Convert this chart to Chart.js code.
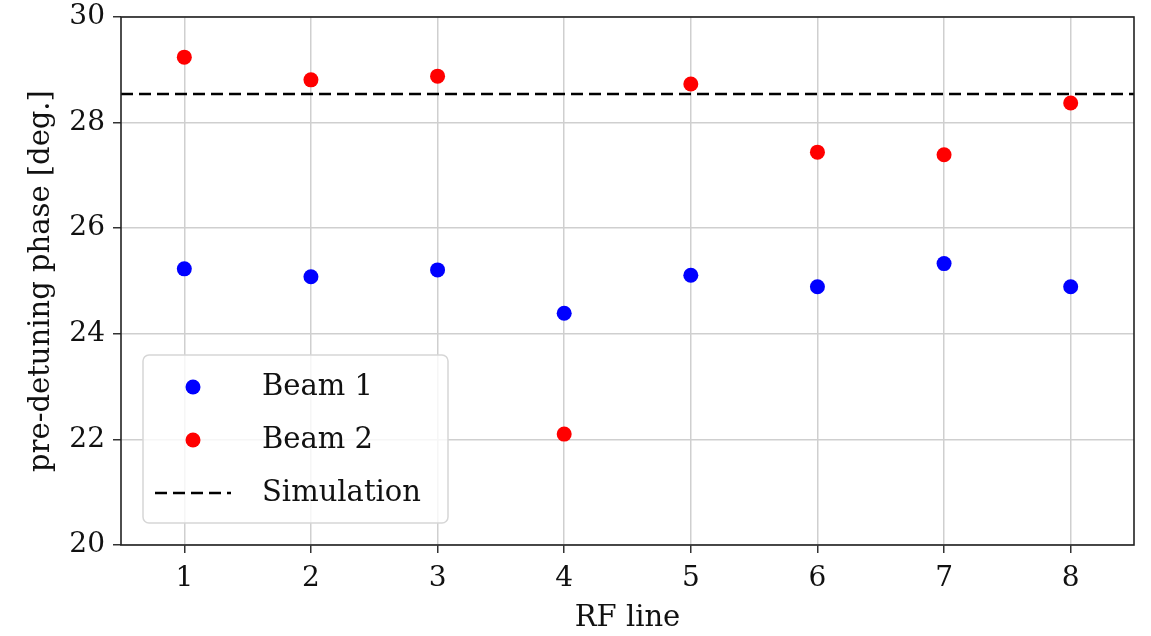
<!DOCTYPE html>
<html>
<head>
<meta charset="utf-8">
<script src="https://cdn.jsdelivr.net/npm/chart.js@4.4.1/dist/chart.umd.min.js"></script>
<style>
	html, body { margin: 0; padding: 0; background: #fff; }
	#wrap { width: 1151px; height: 636px; }
</style>
</head>
<body>
<div id="wrap"><canvas id="chart" width="1151" height="636"></canvas></div>
<script>
// data
const rfLines = [1, 2, 3, 4, 5, 6, 7, 8];
const beam1 = [25.23, 25.08, 25.21, 24.39, 25.11, 24.89, 25.33, 24.89];
const beam2 = [29.24, 28.81, 28.88, 22.10, 28.73, 27.44, 27.39, 28.37];
const simulation = 28.54;
const yTicks = [20, 22, 24, 26, 28, 30];
const xRange = [0.5, 8.5];

const FONT = "'DejaVu Serif', serif";

// frame on all four sides + legend inside the plot
const framePlugin = {
	id: "frame",
	afterDatasetsDraw: function(chart) {
		const ctx = chart.ctx;
		const a = chart.chartArea;
		ctx.save();
		ctx.strokeStyle = "#222";
		ctx.lineWidth = 1.6;
		ctx.strokeRect(a.left, a.top, a.right - a.left, a.bottom - a.top);
		ctx.restore();
	},
	afterDraw: function(chart) {
		const ctx = chart.ctx;
		const a = chart.chartArea;
		const x0 = a.left + 22, y0 = a.top + 338, w = 305, h = 168;
		ctx.save();
		ctx.fillStyle = "rgba(255,255,255,0.8)";
		ctx.strokeStyle = "#d6d6d6";
		ctx.lineWidth = 1.5;
		ctx.beginPath();
		ctx.roundRect(x0, y0, w, h, 6);
		ctx.fill();
		ctx.stroke();

		ctx.font = "29px " + FONT;
		ctx.textBaseline = "middle";
		chart.data.datasets.forEach(function(ds, i) {
			const cy = y0 + 32 + i * 53;
			if (ds.type === "line") {
				ctx.strokeStyle = ds.borderColor;
				ctx.lineWidth = ds.borderWidth;
				ctx.setLineDash(ds.borderDash);
				ctx.beginPath();
				ctx.moveTo(x0 + 12, cy);
				ctx.lineTo(x0 + 88, cy);
				ctx.stroke();
				ctx.setLineDash([]);
			} else {
				ctx.fillStyle = ds.backgroundColor;
				ctx.beginPath();
				ctx.arc(x0 + 50, cy, ds.pointRadius, 0, Math.PI * 2);
				ctx.fill();
			}
			ctx.fillStyle = "#111";
			ctx.fillText(ds.label, x0 + 119, cy);
		});
		ctx.restore();
	}
};

new Chart(document.getElementById("chart"), {
	type: "scatter",
	data: {
		datasets: [
			{
				label: "Beam 1",
				data: rfLines.map((x, i) => ({ x: x, y: beam1[i] })),
				backgroundColor: "#0000ff",
				pointRadius: 7.5,
				pointBorderWidth: 0,
				order: 1
			},
			{
				label: "Beam 2",
				data: rfLines.map((x, i) => ({ x: x, y: beam2[i] })),
				backgroundColor: "#ff0000",
				pointRadius: 7.5,
				pointBorderWidth: 0,
				order: 1
			},
			{
				label: "Simulation",
				type: "line",
				data: xRange.map(x => ({ x: x, y: simulation })),
				borderColor: "#000",
				borderWidth: 2.5,
				borderDash: [12, 6],
				pointRadius: 0,
				order: 0
			}
		]
	},
	options: {
		responsive: false,
		animation: false,
		layout: { padding: { top: 17, right: 17, left: 0, bottom: 0 } },
		plugins: {
			legend: { display: false },
			tooltip: { enabled: false }
		},
		scales: {
			x: {
				type: "linear",
				min: xRange[0],
				max: xRange[1],
				afterBuildTicks: function(scale) {
					scale.ticks = rfLines.map(v => ({ value: v }));
				},
				afterFit: function(scale) {
					scale.height = 91;
					scale.paddingLeft = 0;
					scale.paddingRight = 0;
				},
				grid: { color: "#cfcfcf", lineWidth: 1.5, tickLength: 8, tickColor: "#333" },
				border: { display: false },
				ticks: { color: "#111", font: { family: FONT, size: 28 }, padding: 9, maxRotation: 0 },
				title: { display: true, text: "RF line", color: "#111", font: { family: FONT, size: 29 }, padding: { top: 0, bottom: 0 } }
			},
			y: {
				min: 20,
				max: 30,
				afterBuildTicks: function(scale) {
					scale.ticks = yTicks.map(v => ({ value: v }));
				},
				afterFit: function(scale) {
					scale.width = 121;
					scale.paddingTop = 0;
					scale.paddingBottom = 0;
				},
				grid: { color: "#cfcfcf", lineWidth: 1.5, tickLength: 8, tickColor: "#333" },
				border: { display: false },
				ticks: { color: "#111", font: { family: FONT, size: 28 }, padding: 8 },
				title: { display: true, text: "pre-detuning phase [deg.]", color: "#111", font: { family: FONT, size: 29 }, padding: { top: 24, bottom: 0 } }
			}
		}
	},
	plugins: [framePlugin]
});
</script>
</body>
</html>
